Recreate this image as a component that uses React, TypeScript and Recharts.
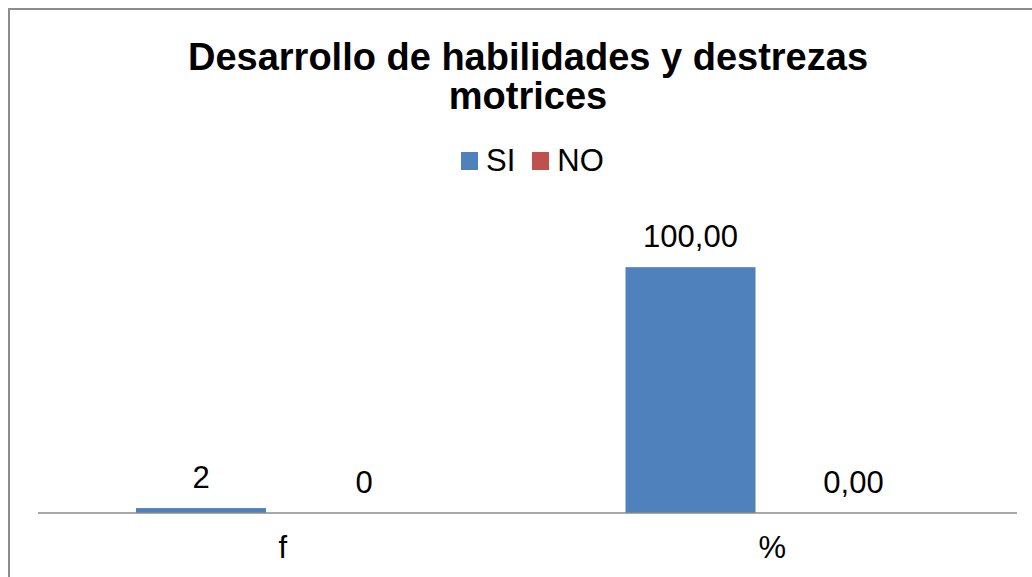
import React from "react"
import { BarChart, Bar, XAxis, YAxis, Legend } from "recharts"

const categories = ["f", "%"]
const siValues = [2, 100]
const noValues = [0, 0]
const seriesNames = ["SI", "NO"]
const seriesColors = ["#4F81BD", "#C0504D"]

const chartTitle = ["Desarrollo de habilidades y destrezas", "motrices"]

const data = categories.map((c, i) => ({ cat: c, SI: siValues[i], NO: noValues[i] }))

const FONT = '"Liberation Sans", Arial, sans-serif'

// f column shows counts, % column shows two decimals with comma
function formatValue(cat: string, v: number) {
  return cat === "%" ? v.toFixed(2).replace(".", ",") : String(v)
}

// bar + its data label, so zero-height bars still get a label
function makeShape(color: string) {
  return (props: any) => {
    const { x, y, width, height, index, value } = props
    const v = Array.isArray(value) ? value[1] : value
    return (
      <g>
        {height > 0 && <rect x={x} y={y} width={width} height={height} fill={color} />}
        <text
          x={x + width / 2}
          y={y - 20}
          textAnchor="middle"
          fontFamily={FONT}
          fontSize={31}
          fill="#000"
        >
          {formatValue(categories[index], v)}
        </text>
      </g>
    )
  }
}

function CategoryTick(props: any) {
  const { x, y, payload } = props
  return (
    <text x={x} y={y} dy={45} textAnchor="middle" fontFamily={FONT} fontSize={31} fill="#000">
      {payload.value}
    </text>
  )
}

function LegendBox() {
  return (
    <div style={{ display: "flex", alignItems: "center", height: 36, fontFamily: FONT, fontSize: 31, color: "#000" }}>
      {seriesNames.map((n, i) => (
        <div key={n} style={{ display: "flex", alignItems: "center", marginRight: i === 0 ? 17 : 0 }}>
          <span style={{ width: 17, height: 18, background: seriesColors[i], marginRight: 8, display: "inline-block" }} />
          <span style={{ lineHeight: "36px" }}>{n}</span>
        </div>
      ))}
    </div>
  )
}

export default function App() {
  return (
    <div style={{ position: "fixed", left: 0, top: 0, width: 1032, height: 577, overflow: "hidden", background: "#fff" }}>
      <div
        style={{
          position: "absolute",
          left: 8,
          top: 8,
          width: 1036,
          height: 600,
          borderTop: "2px solid #8c8c8c",
          borderLeft: "2px solid #8c8c8c",
        }}
      >
        <div
          style={{
            position: "absolute",
            left: 0,
            top: 28,
            width: 1036,
            textAlign: "center",
            fontFamily: FONT,
            fontWeight: 700,
            fontSize: 38,
            lineHeight: "38.5px",
            color: "#000",
          }}
        >
          {chartTitle.map((t) => (
            <div key={t}>{t}</div>
          ))}
        </div>
        <BarChart
          width={1036}
          height={600}
          data={data}
          margin={{ top: 208, right: 29, left: 28, bottom: 57 }}
          barSize={130}
          barGap={33}
        >
          <XAxis
            dataKey="cat"
            height={40}
            tickLine={false}
            tickSize={0}
            tickMargin={0}
            axisLine={{ stroke: "#8a8a8a", strokeWidth: 1.5 }}
            tick={<CategoryTick />}
            interval={0}
          />
          <YAxis hide domain={[0, 120]} />
          <Legend
            layout="horizontal"
            verticalAlign="middle"
            align="center"
            wrapperStyle={{ top: 133, left: 451, width: "auto" }}
            content={() => <LegendBox />}
          />
          {seriesNames.map((n, i) => (
            <Bar key={n} dataKey={n} fill={seriesColors[i]} shape={makeShape(seriesColors[i])} isAnimationActive={false} />
          ))}
        </BarChart>
      </div>
    </div>
  )
}
